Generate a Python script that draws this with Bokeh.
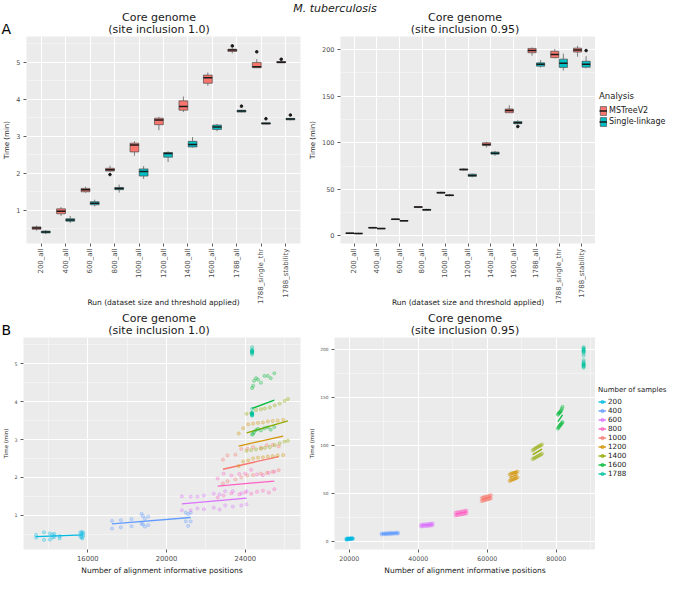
import numpy as np
from bokeh.plotting import figure
from bokeh.models import (ColumnDataSource, FixedTicker, SingleIntervalTicker, Legend,
                          LegendItem, Range1d)
from bokeh.layouts import column, row
from bokeh.embed import file_html
from bokeh.resources import INLINE
from bokeh.core.properties import value

FONT = "DejaVu Sans"
PANEL_BG = "#EBEBEB"
RED = "#F8766D"
TEAL = "#00BFC4"
OUTLINE = "#4D4D4D"
TXT = "#1A1A1A"

# ---------------- Panel A data (box statistics, minutes) ----------------
runs = ["200_all", "400_all", "600_all", "800_all", "1000_all", "1200_all",
        "1400_all", "1600_all", "1788_all", "1788_single_thr", "1788_stability"]
methods = ["MSTreeV2", "Single-linkage"]

# site inclusion 1.0 : MSTreeV2
a10_mst_lo  = [0.44, 0.84, 1.47, 2.04, 2.47, 3.16, 3.65, 4.36, 5.24, 4.85, 4.975]
a10_mst_q1  = [0.48, 0.90, 1.494, 2.054, 2.573, 3.31, 3.703, 4.43, 5.29, 4.85, 4.983]
a10_mst_med = [0.515, 0.966, 1.55, 2.088, 2.757, 3.435, 3.803, 4.58, 5.33, 4.875, 5.0]
a10_mst_q3  = [0.545, 1.033, 1.586, 2.13, 2.808, 3.485, 3.954, 4.65, 5.35, 4.99, 5.017]
a10_mst_hi  = [0.58, 1.08, 1.63, 2.20, 2.86, 3.52, 4.07, 4.72, 5.38, 5.08, 5.04]
a10_mst_out_run = ["800_all", "1788_all", "1788_single_thr", "1788_stability"]
a10_mst_out_val = [1.96, 5.44, 5.28, 5.08]
# site inclusion 1.0 : Single-linkage
a10_sl_lo  = [0.35, 0.65, 1.10, 1.47, 1.84, 2.30, 2.69, 3.13, 3.64, 3.32, 3.43]
a10_sl_q1  = [0.381, 0.699, 1.142, 1.552, 1.92, 2.431, 2.707, 3.18, 3.65, 3.33, 3.44]
a10_sl_med = [0.406, 0.732, 1.184, 1.586, 2.046, 2.531, 2.774, 3.25, 3.68, 3.34, 3.46]
a10_sl_q3  = [0.431, 0.766, 1.226, 1.611, 2.113, 2.556, 2.858, 3.30, 3.70, 3.36, 3.48]
a10_sl_hi  = [0.46, 0.84, 1.28, 1.69, 2.19, 2.59, 2.975, 3.33, 3.71, 3.37, 3.49]
a10_sl_out_run = ["1788_all", "1788_single_thr", "1788_stability"]
a10_sl_out_val = [3.81, 3.47, 3.57]

# site inclusion 0.95 : MSTreeV2
a95_mst_lo  = [2.6, 8.3, 17.2, 30.0, 45.5, 70.0, 95.0, 132.3, 193.4, 190.8, 192.4]
a95_mst_q1  = [2.9, 8.6, 17.6, 30.5, 46.1, 70.8, 97.0, 132.3, 196.7, 191.4, 197.4]
a95_mst_med = [3.0, 8.9, 17.8, 31.0, 46.5, 71.3, 98.3, 134.7, 199.0, 194.7, 199.7]
a95_mst_q3  = [3.1, 9.2, 18.2, 31.4, 47.0, 71.8, 100.0, 136.3, 201.3, 198.3, 201.6]
a95_mst_hi  = [3.3, 9.5, 18.6, 32.0, 47.6, 72.5, 101.0, 140.3, 202.3, 200.7, 204.0]
a95_mst_out_run = []
a95_mst_out_val = []
# site inclusion 0.95 : Single-linkage
a95_sl_lo  = [2.0, 7.3, 15.6, 27.0, 42.5, 63.0, 86.0, 120.5, 180.9, 177.6, 180.0]
a95_sl_q1  = [2.4, 7.6, 16.0, 27.6, 43.2, 64.0, 87.8, 120.5, 182.2, 180.9, 181.2]
a95_sl_med = [2.6, 7.9, 16.2, 28.0, 43.6, 65.0, 88.8, 121.5, 184.2, 185.5, 184.2]
a95_sl_q3  = [2.8, 8.1, 16.5, 28.5, 44.0, 66.3, 90.1, 122.8, 185.8, 189.8, 187.5]
a95_sl_hi  = [3.2, 8.4, 17.0, 29.3, 44.8, 67.0, 91.4, 124.4, 188.8, 195.7, 193.0]
a95_sl_out_run = ["1600_all", "1788_stability"]
a95_sl_out_val = [117.5, 199.0]

# ---------------- Panel B data (positions vs time) ----------------
sample_sizes = ["200", "400", "600", "800", "1000", "1200", "1400", "1600", "1788"]
size_colors = ["#00B9E3", "#619CFF", "#DB72FB", "#FF61C3", "#F8766D",
               "#D39200", "#93AA00", "#00BA38", "#00C19F"]

# site inclusion 1.0
b10_x = {
    "200":  [13370, 13770, 14070, 14200, 14300, 14570, 15620, 15680, 15720, 15770],
    "400":  [17230, 17680, 18220, 18730, 18800, 18900, 19070, 20980, 21100, 21230],
    "600":  [20780, 21230, 21570, 21900, 22400, 22700, 22980, 23370, 23800, 24070],
    "800":  [22600, 22900, 23300, 23700, 24000, 24300, 24600, 24900, 25200, 25480],
    "1000": [22870, 23100, 23500, 23800, 24100, 24400, 24800, 25100, 25400, 25700],
    "1200": [23670, 23900, 24150, 24400, 24650, 24900, 25150, 25400, 25650, 25930],
    "1400": [24070, 24300, 24550, 24800, 25000, 25250, 25500, 25750, 26000, 26170],
    "1600": [24350, 24400, 24450, 24550, 24650, 24800, 24980, 25150, 25300, 25480],
    "1788": [24350, 24350, 24350, 24350, 24350, 24350, 24350, 24350, 24350, 24350],
}
b10_mst = {
    "200":  [0.48, 0.55, 0.52, 0.49, 0.51, 0.45, 0.55, 0.52, 0.56, 0.53],
    "400":  [0.85, 0.87, 0.90, 1.04, 0.98, 0.91, 0.965, 1.07, 1.03, 1.07],
    "600":  [1.50, 1.49, 1.49, 1.52, 1.57, 1.55, 1.635, 1.635, 1.58, 1.635],
    "800":  [1.97, 2.10, 2.05, 2.09, 2.10, 2.20, 2.08, 2.06, 2.12, 2.15],
    "1000": [2.47, 2.58, 2.60, 2.75, 2.76, 2.80, 2.78, 2.85, 2.86, 2.82],
    "1200": [3.16, 3.30, 3.40, 3.42, 3.44, 3.45, 3.48, 3.49, 3.50, 3.52],
    "1400": [3.68, 3.70, 3.78, 3.80, 3.82, 3.85, 3.90, 3.95, 4.02, 4.07],
    "1600": [4.36, 4.42, 4.55, 4.62, 4.58, 4.50, 4.68, 4.68, 4.62, 4.75],
    "1788": [5.24, 5.28, 5.30, 5.31, 5.32, 5.33, 5.34, 5.35, 5.38, 5.44],
}
b10_sl = {
    "200":  [0.41, 0.35, 0.36, 0.41, 0.43, 0.39, 0.44, 0.41, 0.39, 0.46],
    "400":  [0.65, 0.68, 0.71, 0.78, 0.76, 0.70, 0.74, 0.84, 0.72, 0.84],
    "600":  [1.13, 1.13, 1.18, 1.16, 1.20, 1.15, 1.26, 1.23, 1.26, 1.29],
    "800":  [1.47, 1.52, 1.58, 1.55, 1.60, 1.57, 1.62, 1.65, 1.60, 1.69],
    "1000": [1.84, 1.90, 1.95, 2.00, 2.05, 2.06, 2.10, 2.12, 2.15, 2.19],
    "1200": [2.30, 2.42, 2.45, 2.50, 2.52, 2.53, 2.55, 2.56, 2.58, 2.59],
    "1400": [2.70, 2.72, 2.74, 2.76, 2.78, 2.80, 2.85, 2.90, 2.95, 2.97],
    "1600": [3.13, 3.15, 3.20, 3.25, 3.28, 3.24, 3.30, 3.32, 3.26, 3.33],
    "1788": [3.63, 3.64, 3.65, 3.67, 3.68, 3.68, 3.69, 3.70, 3.71, 3.81],
}

# site inclusion 0.95
b95_x = {
    "200":  [19150, 19350, 19550, 19750, 19950, 20150, 20350, 20550, 20800, 21000],
    "400":  [29400, 30000, 30500, 31000, 31500, 32000, 32500, 33000, 33600, 34100],
    "600":  [40800, 41200, 41600, 42000, 42400, 42800, 43100, 43500, 43800, 44170],
    "800":  [50800, 51200, 51500, 51900, 52300, 52600, 53000, 53300, 53700, 54000],
    "1000": [58400, 58700, 59000, 59300, 59600, 59900, 60200, 60500, 60800, 61100],
    "1200": [66500, 66800, 67000, 67300, 67600, 67800, 68100, 68300, 68500, 68800],
    "1400": [73200, 73500, 73800, 74100, 74400, 74700, 75000, 75300, 75600, 75900],
    "1600": [80500, 80650, 80800, 80950, 81100, 81250, 81400, 81550, 81700, 81850],
    "1788": [87970, 87970, 87970, 87970, 87970, 87970, 87970, 87970, 87970, 87970],
}
b95_mst = {
    "200":  [2.9, 3.0, 3.0, 3.1, 3.0, 3.1, 3.2, 3.1, 3.3, 3.2],
    "400":  [8.4, 8.6, 8.5, 8.8, 8.7, 9.0, 8.9, 9.1, 9.3, 9.2],
    "600":  [17.4, 17.6, 17.7, 17.9, 17.8, 18.1, 18.2, 18.3, 18.6, 18.8],
    "800":  [29.8, 30.2, 30.4, 30.6, 31.0, 31.0, 31.3, 31.6, 31.8, 32.2],
    "1000": [45.2, 45.6, 46.0, 46.3, 46.5, 46.6, 47.0, 47.3, 47.8, 48.4],
    "1200": [69.5, 70.2, 70.8, 71.0, 71.2, 71.4, 71.6, 71.9, 72.3, 72.8],
    "1400": [94.8, 95.6, 96.5, 97.2, 98.0, 98.5, 99.0, 99.6, 100.2, 101.0],
    "1600": [132.0, 132.8, 133.5, 134.2, 134.6, 135.0, 136.0, 137.2, 138.6, 140.3],
    "1788": [193.4, 196.0, 197.0, 198.0, 198.5, 199.0, 199.5, 200.5, 201.3, 202.3],
}
b95_sl = {
    "200":  [1.7, 2.1, 2.3, 2.5, 2.5, 2.6, 2.7, 2.7, 2.8, 2.9],
    "400":  [7.3, 7.6, 7.5, 7.8, 7.7, 7.9, 8.1, 8.0, 8.3, 8.2],
    "600":  [15.6, 15.9, 16.0, 16.1, 16.3, 16.2, 16.5, 16.7, 16.8, 17.0],
    "800":  [27.0, 27.4, 27.8, 27.9, 28.1, 28.4, 28.5, 28.8, 29.2, 29.5],
    "1000": [42.0, 42.5, 42.8, 43.2, 43.4, 43.6, 43.9, 44.3, 44.6, 45.0],
    "1200": [63.0, 63.6, 64.1, 64.4, 64.8, 65.2, 65.5, 65.9, 66.4, 66.8],
    "1400": [85.8, 86.4, 87.0, 87.6, 88.3, 88.9, 89.4, 90.0, 90.7, 91.4],
    "1600": [117.5, 118.4, 119.2, 120.0, 120.8, 121.5, 122.0, 122.8, 123.6, 124.4],
    "1788": [180.9, 182.0, 182.5, 183.5, 184.0, 184.2, 185.0, 185.8, 187.0, 188.8],
}

# ---------------- layout constants (pixels) ----------------
TOTAL_W = 669
LEFT_W, RIGHT_W, LEG_W = 306, 289, 74
L_MB_L, L_MB_R = 17, 6
R_MB_L, R_MB_R = 28, 0
TOP_STRIP_H, TOP_H, MID_STRIP_H, BOT_H = 36, 274, 27, 240
TOP_MB_B, BOT_MB_B = 62, 23
NAN = float("nan")


def expand(vals, frac=0.05):
    lo, hi = float(np.min(vals)), float(np.max(vals))
    pad = (hi - lo) * frac
    return Range1d(lo - pad, hi + pad)


def bare(width, height, xr, yr):
    p = figure(width=width, height=height, x_range=xr, y_range=yr, toolbar_location=None,
               output_backend="svg", min_border=0)
    p.axis.visible = False
    p.grid.visible = False
    p.outline_line_color = None
    p.background_fill_color = None
    p.border_fill_color = None
    return p


def style(p, tick_px, ytick_px, ylab_px, xlab_px):
    p.background_fill_color = PANEL_BG
    p.border_fill_color = "white"
    p.outline_line_color = None
    for ax, fs in ((p.xaxis[0], tick_px), (p.yaxis[0], ytick_px)):
        ax.axis_line_color = None
        ax.major_tick_line_color = "#333333"
        ax.major_tick_line_width = 0.8
        ax.major_tick_out = 3
        ax.major_tick_in = 0
        ax.minor_tick_line_color = None
        ax.major_label_text_font = FONT
        ax.major_label_text_font_size = fs
        ax.major_label_text_color = "#4D4D4D"
        ax.major_label_standoff = 2
        ax.axis_label_text_font = FONT
        ax.axis_label_text_font_style = "normal"
        ax.axis_label_text_color = TXT
        ax.axis_label_standoff = 2
    p.yaxis[0].axis_label_text_font_size = ylab_px
    p.xaxis[0].axis_label_text_font_size = xlab_px
    for g in (p.xgrid[0], p.ygrid[0]):
        g.grid_line_color = "white"
        g.grid_line_width = 1.0
        g.minor_grid_line_color = "white"
        g.minor_grid_line_width = 0.5
        g.minor_grid_line_alpha = 0.8


def draw_boxes(p, pos, lo, q1, med, q3, hi, color):
    pos = np.asarray(pos, dtype=float)
    src = ColumnDataSource(dict(x=pos, lo=lo, q1=q1, med=med, q3=q3, hi=hi,
                                xl=pos - 0.18, xr=pos + 0.18))
    p.segment(x0="x", y0="q3", x1="x", y1="hi", source=src, line_color=OUTLINE, line_width=0.7)
    p.segment(x0="x", y0="lo", x1="x", y1="q1", source=src, line_color=OUTLINE, line_width=0.7)
    p.vbar(x="x", width=0.36, bottom="q1", top="q3", source=src,
           fill_color=color, line_color=OUTLINE, line_width=0.7)
    p.segment(x0="xl", y0="med", x1="xr", y1="med", source=src,
              line_color=TXT, line_width=1.5)


def box_panel(mst, sl, mst_out, sl_out, width, mb_left, mb_right, ytick):
    allv = mst[0] + mst[4] + sl[0] + sl[4] + mst_out[1] + sl_out[1]
    p = figure(width=width, height=TOP_H, x_range=Range1d(0.4, len(runs) + 0.6),
               y_range=expand(allv), toolbar_location=None, output_backend="svg",
               min_border_left=mb_left, min_border_right=mb_right,
               min_border_top=0, min_border_bottom=TOP_MB_B)
    style(p, "7px", "6.5px", "7px", "7.5px")
    centers = np.arange(1, len(runs) + 1)
    p.xaxis[0].ticker = FixedTicker(ticks=[int(c) for c in centers])
    p.xaxis[0].major_label_overrides = {int(c): r for c, r in zip(centers, runs)}
    p.xaxis[0].major_label_orientation = np.pi / 2
    p.xaxis[0].axis_label = "Run (dataset size and threshold applied)"
    p.xaxis[0].axis_label_standoff = -9
    p.yaxis[0].axis_label = "Time (min)"
    p.yaxis[0].ticker = SingleIntervalTicker(interval=ytick, num_minor_ticks=2)
    idx = {r: i + 1 for i, r in enumerate(runs)}
    draw_boxes(p, centers - 0.1875, *mst, RED)
    draw_boxes(p, centers + 0.1875, *sl, TEAL)
    if mst_out[0]:
        p.scatter([idx[r] - 0.1875 for r in mst_out[0]], mst_out[1], size=2.6, color=TXT)
    if sl_out[0]:
        p.scatter([idx[r] + 0.1875 for r in sl_out[0]], sl_out[1], size=2.6, color=TXT)
    return p


def scatter_panel(xs, ms, ss, width, mb_left, mb_right, xtick, ytick,
                  xtick_px, ytick_px, ylab_px):
    allx = sum((xs[k] for k in sample_sizes), [])
    ally = sum((ms[k] + ss[k] for k in sample_sizes), [])
    p = figure(width=width, height=BOT_H, x_range=expand(allx), y_range=expand(ally),
               toolbar_location=None, output_backend="svg",
               min_border_left=mb_left, min_border_right=mb_right,
               min_border_top=0, min_border_bottom=BOT_MB_B)
    style(p, xtick_px, ytick_px, ylab_px, "7.5px")
    p.xaxis[0].ticker = SingleIntervalTicker(interval=xtick, num_minor_ticks=2)
    p.yaxis[0].ticker = SingleIntervalTicker(interval=ytick, num_minor_ticks=2)
    p.xaxis[0].axis_label = "Number of alignment informative positions"
    p.yaxis[0].axis_label = "Time (min)"
    for k, col in zip(sample_sizes, size_colors):
        x = np.array(xs[k] + xs[k], dtype=float)
        y = np.array(ms[k] + ss[k], dtype=float)
        p.scatter(x, y, size=3.2, marker="circle", fill_color=col, fill_alpha=0.25,
                  line_color=col, line_alpha=0.5, line_width=0.6)
        if np.ptp(x) > 0:
            b1, b0 = np.polyfit(x, y, 1)
            xe = np.array([x.min(), x.max()])
            p.line(xe, b0 + b1 * xe, line_color=col, line_width=1.3)
    return p


def style_legend(lg, title_px, label_px, gh, tstand):
    lg.title_text_font = FONT
    lg.title_text_font_size = title_px
    lg.title_text_font_style = "normal"
    lg.title_text_color = TXT
    lg.label_text_font = FONT
    lg.label_text_font_size = label_px
    lg.label_text_color = TXT
    lg.glyph_width = 8
    lg.glyph_height = gh
    lg.label_height = gh
    lg.label_standoff = 2
    lg.spacing = 0
    lg.padding = 0
    lg.margin = 4
    lg.title_standoff = tstand
    lg.border_line_color = None
    lg.background_fill_alpha = 0


def title_strip(height, letter, main=None):
    s = bare(TOTAL_W, height, Range1d(0, TOTAL_W), Range1d(0, height))
    c_left = L_MB_L + (LEFT_W - L_MB_L - L_MB_R) / 2
    c_right = LEFT_W + R_MB_L + (RIGHT_W - R_MB_L - R_MB_R) / 2
    s.text(x=[c_left, c_right, c_left, c_right],
           y=[12.5, 12.5, 0.5, 0.5],
           text=["Core genome", "Core genome", "(site inclusion 1.0)", "(site inclusion 0.95)"],
           text_font=value(FONT), text_font_size="11px", text_align="center",
           text_baseline="bottom", text_color=TXT)
    s.text(x=[1], y=[0], text=[letter], text_font=value(FONT), text_font_size="14px",
           text_align="left", text_baseline="bottom", text_color="black")
    if main:
        s.text(x=[TOTAL_W / 2], y=[height - 1], text=[main], text_font=value(FONT),
               text_font_size="11px", text_font_style="italic", text_align="center",
               text_baseline="top", text_color=TXT)
    return s


# ---------------- build figures ----------------
mst10 = [a10_mst_lo, a10_mst_q1, a10_mst_med, a10_mst_q3, a10_mst_hi]
sl10 = [a10_sl_lo, a10_sl_q1, a10_sl_med, a10_sl_q3, a10_sl_hi]
mst95 = [a95_mst_lo, a95_mst_q1, a95_mst_med, a95_mst_q3, a95_mst_hi]
sl95 = [a95_sl_lo, a95_sl_q1, a95_sl_med, a95_sl_q3, a95_sl_hi]

top_strip = title_strip(TOP_STRIP_H, "A", "M. tuberculosis")
tl = box_panel(mst10, sl10, (a10_mst_out_run, a10_mst_out_val),
               (a10_sl_out_run, a10_sl_out_val), LEFT_W, L_MB_L, L_MB_R, 1)
tr = box_panel(mst95, sl95, (a95_mst_out_run, a95_mst_out_val),
               (a95_sl_out_run, a95_sl_out_val), RIGHT_W, R_MB_L, R_MB_R, 50)

# legend for panel A: keys use the box styling (placeholder renderers hold no visible data)
leg_fig_a = bare(LEG_W, TOP_H - TOP_MB_B, Range1d(0, 1), Range1d(0, 1))
key_items = []
for name, col in zip(methods, [RED, TEAL]):
    kb = leg_fig_a.vbar(x=[NAN], top=[NAN], bottom=[NAN], width=0.36, fill_color=col,
                        line_color=OUTLINE, line_width=0.7)
    km = leg_fig_a.segment(x0=[NAN], y0=[NAN], x1=[NAN], y1=[NAN], line_color=TXT,
                           line_width=1.5)
    key_items.append(LegendItem(label=name, renderers=[kb, km]))
leg_a = Legend(items=key_items, title="Analysis", location="center_left")
style_legend(leg_a, "8.5px", "8px", 11, 4)
leg_fig_a.add_layout(leg_a, "center")

mid_strip = title_strip(MID_STRIP_H, "B")
bl = scatter_panel(b10_x, b10_mst, b10_sl, LEFT_W, L_MB_L, L_MB_R, 4000, 1,
                   "6.8px", "4.8px", "5.5px")
br = scatter_panel(b95_x, b95_mst, b95_sl, RIGHT_W, R_MB_L, R_MB_R, 20000, 50,
                   "6.3px", "4.3px", "5.5px")

leg_fig_b = bare(LEG_W, BOT_H - BOT_MB_B, Range1d(0, 1), Range1d(0, 1))
size_items = []
for k, col in zip(sample_sizes, size_colors):
    kl = leg_fig_b.line(x=[NAN, NAN], y=[NAN, NAN], line_color=col, line_width=1.3)
    kp = leg_fig_b.scatter(x=[NAN], y=[NAN], size=3.2, marker="circle", fill_color=col,
                           fill_alpha=0.5, line_color=col, line_alpha=0.7)
    size_items.append(LegendItem(label=k, renderers=[kl, kp]))
leg_b = Legend(items=size_items, title="Number of samples", location="center_left")
style_legend(leg_b, "7px", "7.2px", 9, 3)
leg_b.margin = 3
leg_fig_b.add_layout(leg_b, "center")

layout = column(top_strip, row(tl, tr, leg_fig_a), mid_strip, row(bl, br, leg_fig_b))
open("out.html", "w").write(file_html(layout, INLINE))
